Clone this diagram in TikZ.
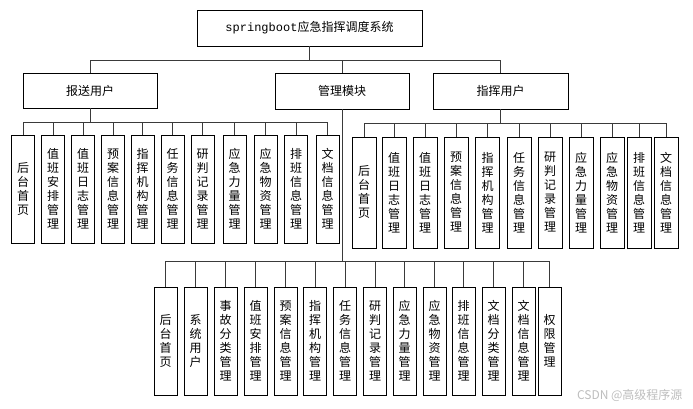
\documentclass[tikz,border=0pt]{standalone}
\usepackage{fontspec}
\setmainfont{Noto Sans CJK SC}
\newfontfamily\monofont{Liberation Mono}
\usepackage{tikz}
\usetikzlibrary{calc,positioning}
\definecolor{linegray}{HTML}{3A3A3A}
\definecolor{markgray}{HTML}{BDBDBD}

\begin{document}
\begin{tikzpicture}[x=1pt,y=-1pt,
  box/.style={draw=black, line width=0.9pt, inner sep=0pt, font=\fontsize{12}{14}\selectfont},
  topbox/.style={box, minimum width=134pt, minimum height=35pt},
  vbox/.style={box, minimum width=23pt, minimum height=108pt, align=center},
  link/.style={draw=linegray, line width=0.9pt}]
\useasboundingbox (0,0) rectangle (693,409);

% Root and second level
\node[box, minimum width=225pt, minimum height=36pt] (root) at (309.5,28) {{\monofont springboot}应急指挥调度系统};
\node[topbox] (report) at (90,90.5) {报送用户};
\node[topbox, minimum height=36pt] (admin) at (342,91) {管理模块};
\node[topbox, minimum width=135pt, minimum height=36pt] (command) at (500.5,91) {指挥用户};

\draw[link] (root.south) -- ++(0,14) -| (report.north);
\draw[link] (root.south) -- ++(0,14) -| (admin.north);
\draw[link] (root.south) -- ++(0,14) -| (command.north);

% Reporter modules
\foreach \px/\lbl [count=\i] in {23/{后\\台\\首\\页}, 53/{值\\班\\安\\排\\管\\理}, 83/{值\\班\\日\\志\\管\\理},
  113/{预\\案\\信\\息\\管\\理}, 142.5/{指\\挥\\机\\构\\管\\理}, 172.5/{任\\务\\信\\息\\管\\理},
  202.5/{研\\判\\记\\录\\管\\理}, 234.5/{应\\急\\力\\量\\管\\理}, 265.5/{应\\急\\物\\资\\管\\理},
  296/{排\\班\\信\\息\\管\\理}, 327.5/{文\\档\\信\\息\\管\\理}} {
  \node[vbox] (l\i) at (\px,189) {\lbl};
  \draw[link] (report.south) -- ++(0,14) -| (l\i.north);
}

% Commander modules
\foreach \px/\lbl [count=\i] in {364/{后\\台\\首\\页}, 394/{值\\班\\日\\志\\管\\理}, 425/{值\\班\\日\\志\\管\\理},
  456/{预\\案\\信\\息\\管\\理}, 487.5/{指\\挥\\机\\构\\管\\理}, 519/{任\\务\\信\\息\\管\\理},
  550/{研\\判\\记\\录\\管\\理}, 581/{应\\急\\力\\量\\管\\理}, 612/{应\\急\\物\\资\\管\\理},
  639/{排\\班\\信\\息\\管\\理}, 666/{文\\档\\信\\息\\管\\理}} {
  \node[vbox, minimum width=24pt, minimum height=111pt] (r\i) at (\px,192.5) {\lbl};
  \draw[link] (command.south) -- ++(0,14) -| (r\i.north);
}

% Admin modules
\foreach \px/\lbl [count=\i] in {165.5/{后\\台\\首\\页}, 195.5/{系\\统\\用\\户}, 225.5/{事\\故\\分\\类\\管\\理},
  255.5/{值\\班\\安\\排\\管\\理}, 285.5/{预\\案\\信\\息\\管\\理}, 315/{指\\挥\\机\\构\\管\\理},
  345/{任\\务\\信\\息\\管\\理}, 375/{研\\判\\记\\录\\管\\理}, 404.5/{应\\急\\力\\量\\管\\理},
  434.5/{应\\急\\物\\资\\管\\理}, 463.5/{排\\班\\信\\息\\管\\理}, 493.5/{文\\档\\分\\类\\管\\理},
  523.5/{文\\档\\信\\息\\管\\理}, 549.5/{权\\限\\管\\理}} {
  \node[vbox] (m\i) at (\px,341) {\lbl};
  \draw[link] (admin.south) -- ++(0,152) -| (m\i.north);
}

\node[text=markgray, font=\fontsize{12}{14}\selectfont, anchor=east] (mark) at (686,395) {CSDN @高级程序源};
\end{tikzpicture}
\end{document}
